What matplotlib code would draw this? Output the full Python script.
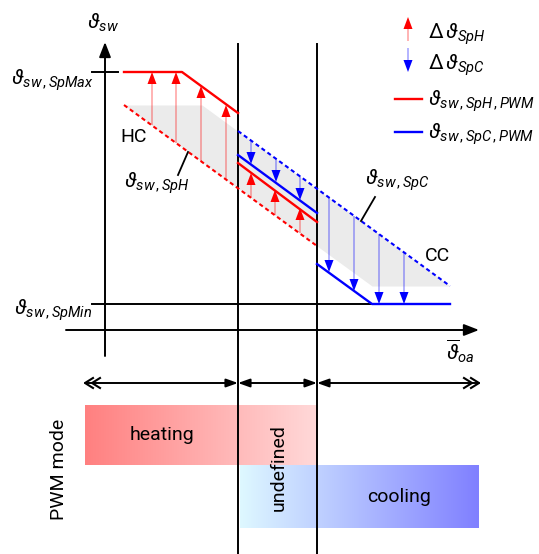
import numpy as np
import matplotlib.pyplot as plt
from matplotlib.colors import to_rgb

plt.rcParams['font.family'] = ['Roboto', 'DejaVu Sans']
plt.rcParams['mathtext.fontset'] = 'custom'
plt.rcParams['mathtext.rm'] = 'Roboto'
plt.rcParams['mathtext.it'] = 'Roboto:italic'
plt.rcParams['mathtext.fallback'] = 'cm'

# schematic coordinates (x to the right, y downwards, same scale as the sketch)
zone_x = [238, 317]                     # borders of the "undefined" zone
sp_h_x = [124, 317]                     # heating setpoint (dashed red)
sp_h_y = [105, 246]
sp_c_x = [238, 450]                     # cooling setpoint (dashed blue)
sp_c_y = [131, 286]
pwm_h_left_x = [124, 182, 238]
pwm_h_left_y = [72, 72, 113]
pwm_h_mid_x = [238, 317]
pwm_h_mid_y = [163, 222]
pwm_c_mid_x = [238, 317]
pwm_c_mid_y = [155, 213]
pwm_c_right_x = [317, 372, 450]
pwm_c_right_y = [264, 304, 304]
band_x = [124, 202, 317, 372, 450]
band_top = [105, 105, 189, 229, 286]
band_bottom = [105, 162, 246, 286, 286]

heat_arrow_x = [152, 176, 201, 226, 251, 275, 300]
heat_arrow_from = [125, 143, 161, 179, 198, 215, 233]
heat_arrow_to = [72, 72, 86, 105, 173, 190, 208]
cool_arrow_x = [251, 276, 300, 329, 354, 379, 404]
cool_arrow_from = [140, 158, 176, 197, 216, 234, 252]
cool_arrow_to = [164, 182, 200, 272, 291, 304, 304]

sp_max_y = 72
sp_min_y = 304
axis_x0, axis_y0 = 105, 330

modes = ['heating', 'cooling']
mode_x = [[85, 318], [240, 479]]
mode_y = [[405, 465], [465, 528]]
mode_colors = [['#ff8080', '#ffd9d9'], ['#def8ff', '#8080ff']]
mode_text_x = [162, 399]

RED = '#ff0000'
BLUE = '#0000ff'


def v_arrow(ax, x, y0, y1, color, shaft_alpha=0.35):
    """vertical arrow: pale shaft and solid triangular head"""
    d = np.sign(y1 - y0)
    L, W = 12, 4.5
    ax.plot([x, x], [y0, y1 - d * L], color=color, alpha=shaft_alpha, lw=1.2, solid_capstyle='butt')
    ax.fill([x - W, x + W, x], [y1 - d * L, y1 - d * L, y1], color=color, lw=0)


fig = plt.figure(figsize=(5.39, 5.54), dpi=100)
ax = fig.add_axes([0, 0, 1, 1])
ax.axis('off')

# grey band between the two setpoints
ax.fill_between(band_x, band_top, band_bottom, color='#ebebeb', lw=0, zorder=0)

# axes
ax.annotate('', xy=(axis_x0, 42), xytext=(axis_x0, 356),
            arrowprops=dict(arrowstyle='-|>,head_length=0.9,head_width=0.35', color='k', lw=1.4, shrinkA=0, shrinkB=0))
ax.annotate('', xy=(479, axis_y0), xytext=(66, axis_y0),
            arrowprops=dict(arrowstyle='-|>,head_length=0.9,head_width=0.35', color='k', lw=1.4, shrinkA=0, shrinkB=0))
ax.plot([92, 118], [sp_max_y, sp_max_y], color='k', lw=1.4)
ax.plot([92, pwm_c_right_x[1]], [sp_min_y, sp_min_y], color='k', lw=1.4)
for zx in zone_x:
    ax.plot([zx, zx], [44, 554], color='k', lw=1.4)

# setpoints and PWM curves
ax.plot(sp_h_x, sp_h_y, color=RED, lw=1.5, ls=(0, (2, 1.5)))
ax.plot(sp_c_x, sp_c_y, color=BLUE, lw=1.5, ls=(0, (2, 1.5)))
ax.plot(pwm_h_left_x, pwm_h_left_y, color=RED, lw=1.7)
ax.plot(pwm_h_mid_x, pwm_h_mid_y, color=RED, lw=1.7)
ax.plot(pwm_c_mid_x, pwm_c_mid_y, color=BLUE, lw=1.7)
ax.plot(pwm_c_right_x, pwm_c_right_y, color=BLUE, lw=1.7)

for x, a, b in zip(heat_arrow_x, heat_arrow_from, heat_arrow_to):
    v_arrow(ax, x, a, b, RED)
for x, a, b in zip(cool_arrow_x, cool_arrow_from, cool_arrow_to):
    v_arrow(ax, x, a, b, BLUE)

# labels
big = 15
ax.text(103, 23, r'$\vartheta_{sw}$', fontsize=big, ha='center', va='center')
ax.text(94, 80, r'$\vartheta_{sw\,,SpMax}$', fontsize=big, ha='right', va='center')
ax.text(92, 310, r'$\vartheta_{sw\,,SpMin}$', fontsize=big, ha='right', va='center')
ax.text(134, 137, 'HC', fontsize=14, ha='center', va='center')
ax.text(437, 256, 'CC', fontsize=14, ha='center', va='center')
ax.text(157, 183, r'$\vartheta_{sw\,,SpH}$', fontsize=big, ha='center', va='center')
ax.plot([178, 188], [175, 152], color='k', lw=1.3)
ax.text(397, 180, r'$\vartheta_{sw\,,SpC}$', fontsize=big, ha='center', va='center')
ax.plot([361, 375], [221, 197], color='k', lw=1.3)
ax.text(460, 351, r'$\overline{\vartheta}_{oa}$', fontsize=big, ha='center', va='center')

# legend
v_arrow(ax, 408, 41, 17, RED)
ax.text(428, 34, r'$\Delta\,\vartheta_{SpH}$', fontsize=big, ha='left', va='center')
v_arrow(ax, 408, 48, 72, BLUE)
ax.text(428, 65, r'$\Delta\,\vartheta_{SpC}$', fontsize=big, ha='left', va='center')
ax.plot([395, 422], [99, 99], color=RED, lw=1.7)
ax.text(428, 101, r'$\vartheta_{sw\,,SpH\,,PWM}$', fontsize=big, ha='left', va='center')
ax.plot([395, 422], [132, 132], color=BLUE, lw=1.7)
ax.text(428, 134, r'$\vartheta_{sw\,,SpC\,,PWM}$', fontsize=big, ha='left', va='center')

# range arrows
ya = 383
ap = dict(color='k', lw=1.4, shrinkA=0, shrinkB=0)
ax.annotate('', xy=(zone_x[0], ya), xytext=(85, ya), arrowprops=dict(arrowstyle='-|>,head_length=0.7,head_width=0.25', **ap))
ax.annotate('', xy=(zone_x[1], ya), xytext=(zone_x[0], ya), arrowprops=dict(arrowstyle='<|-|>,head_length=0.7,head_width=0.25', **ap))
ax.annotate('', xy=(479, ya), xytext=(zone_x[1], ya), arrowprops=dict(arrowstyle='<|-,head_length=0.7,head_width=0.25', **ap))
for xe, s in [(85, 1), (479, -1)]:
    for off in (0, 7):
        xt = xe + s * off
        ax.plot([xt + s * 8, xt, xt + s * 8], [ya - 5, ya, ya + 5], color='k', lw=1.5)

# PWM mode boxes with gradients
t = np.linspace(0, 1, 200)[None, :, None]
for name, (x0, x1), (y0, y1), (c0, c1), tx in zip(modes, mode_x, mode_y, mode_colors, mode_text_x):
    img = (1 - t) * np.array(to_rgb(c0)) + t * np.array(to_rgb(c1))
    ax.imshow(img, extent=(x0, x1, y1, y0), aspect='auto', zorder=0, interpolation='bilinear')
    ax.text(tx, (y0 + y1) / 2, name, fontsize=14, ha='center', va='center')
ax.text(279, 468, 'undefined', fontsize=14, rotation=90, ha='center', va='center')
ax.text(59, 469, 'PWM mode', fontsize=14, rotation=90, ha='center', va='center')
ax.set_xlim(0, 539)
ax.set_ylim(554, 0)

fig.savefig('out.png', dpi=100)
